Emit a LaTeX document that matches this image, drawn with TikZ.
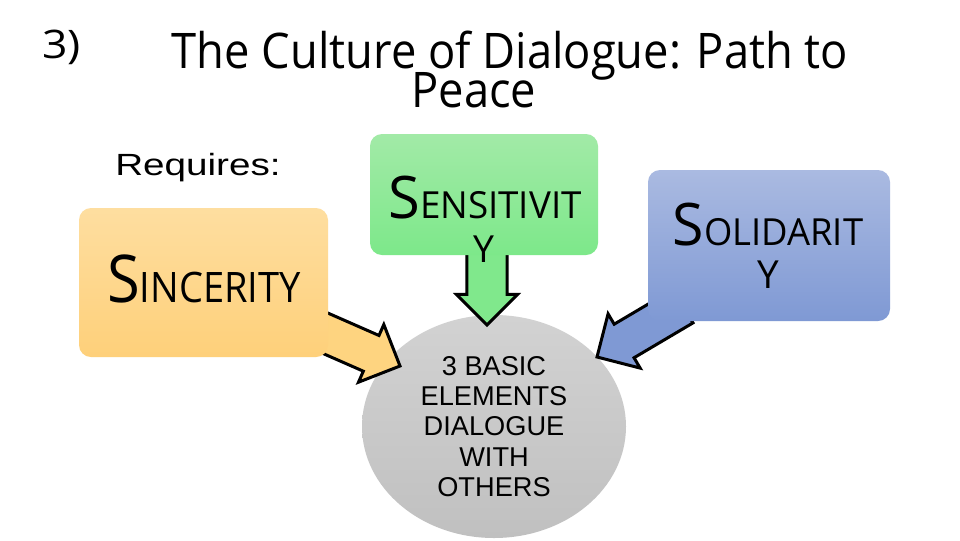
\documentclass[tikz,border=0pt]{standalone}
\usepackage{fontspec}
\usepackage{graphicx}
\setmainfont{Open Sans}
\newfontfamily\arialf{Liberation Sans}
\usetikzlibrary{shapes.geometric,shapes.arrows}
\definecolor{orTop}{RGB}{254,222,160}
\definecolor{orBot}{RGB}{254,208,122}
\definecolor{grTop}{RGB}{162,234,167}
\definecolor{grBot}{RGB}{125,232,138}
\definecolor{blTop}{RGB}{170,186,225}
\definecolor{blBot}{RGB}{127,153,212}
\definecolor{orArr}{RGB}{254,212,128}
\definecolor{grArr}{RGB}{128,232,140}
\definecolor{blArr}{RGB}{127,153,212}
\definecolor{ciTop}{RGB}{210,210,210}
\definecolor{ciBot}{RGB}{192,192,192}
\newcommand\capword[4]{{\fontsize{#1}{#1}\selectfont #3}{\fontsize{#2}{#2}\selectfont #4}}
\begin{document}
\begin{tikzpicture}[x=0.75pt,y=-0.75pt,
  boxbase/.style={rounded corners=9pt, inner sep=0pt, draw=none},
  blockarrow/.style={single arrow, draw=black, line width=2.25pt, inner xsep=0pt,
     outer sep=0pt, shape border uses incircle=false},
  wordtext/.style={inner sep=0pt, anchor=base, text=black}]
\useasboundingbox[fill=white] (0,0) rectangle (960,540);

% centre ellipse
\node[ellipse, minimum width=198pt, minimum height=167.25pt, inner sep=0pt,
      top color=ciTop, bottom color=ciBot, align=center,
      font=\arialf\fontsize{20.4}{22.6}\selectfont] (core) at (494,426.5)
      {3 BASIC\\ELEMENTS\\DIALOGUE\\WITH\\OTHERS};

% arrow tips
\coordinate (tipA) at (400,366);
\coordinate (tipB) at (487,325);
\coordinate (tipC) at (597,357);

\node[blockarrow, fill=orArr, rotate=-23.7, anchor=tip, inner ysep=13.5pt,
      minimum width=45pt, single arrow head extend=9pt, minimum height=67.5pt] (arrA) at (tipA) {};
\node[blockarrow, fill=grArr, rotate=-90, anchor=tip, inner ysep=13.9pt,
      minimum width=43.5pt, single arrow head extend=7.9pt, minimum height=56.25pt] (arrB) at (tipB) {};
\node[blockarrow, fill=blArr, rotate=210.6, anchor=tip, inner ysep=13.5pt,
      minimum width=45pt, single arrow head extend=9pt, minimum height=75pt] (arrC) at (tipC) {};

% boxes
\node[boxbase, top color=orTop, bottom color=orBot, minimum width=186.75pt, minimum height=111.75pt] (sinc) at (203.5,282.5) {};
\node[boxbase, top color=grTop, bottom color=grBot, minimum width=171pt, minimum height=90.75pt] (sens) at (484,194.5) {};
\node[boxbase, top color=blTop, bottom color=blBot, minimum width=181.5pt, minimum height=113.25pt] (soli) at (769,245.5) {};

% box texts
\node[wordtext] (sincT) at (204,302) {\scalebox{0.905}[1]{\capword{49.4}{31.5}{S}{INCERITY}}};
\node[wordtext] (sensT) at (485,218) {\scalebox{0.985}[1]{\capword{44}{28}{S}{ENSITIVIT}}};
\node[wordtext] (sensY) at (484,262) {\capword{28}{28}{}{Y}};
\node[wordtext] (soliT) at (768,245) {\scalebox{0.975}[1]{\capword{44}{28}{S}{OLIDARIT}}};
\node[wordtext] (soliY) at (768,288) {\capword{29}{29}{}{Y}};

% titles
\node[inner sep=0pt, anchor=base west, font=\fontsize{29.5}{29.5}\selectfont] (num) at (42,58) {\scalebox{1.13}[1]{3)}};
\node[inner sep=0pt, anchor=base, font=\fontsize{36.8}{36.8}\selectfont] (title1) at (510,68) {\scalebox{0.923}[1]{The Culture of Dialogue: Path to}};
\node[inner sep=0pt, anchor=base, font=\fontsize{36.8}{36.8}\selectfont] (title2) at (474,107) {\scalebox{0.923}[1]{Peace}};
\node[inner sep=0pt, anchor=base west, font=\arialf\fontsize{23}{23}\selectfont] (req) at (115,175) {\scalebox{1.26}[1]{Requires:}};
\end{tikzpicture}
\end{document}
